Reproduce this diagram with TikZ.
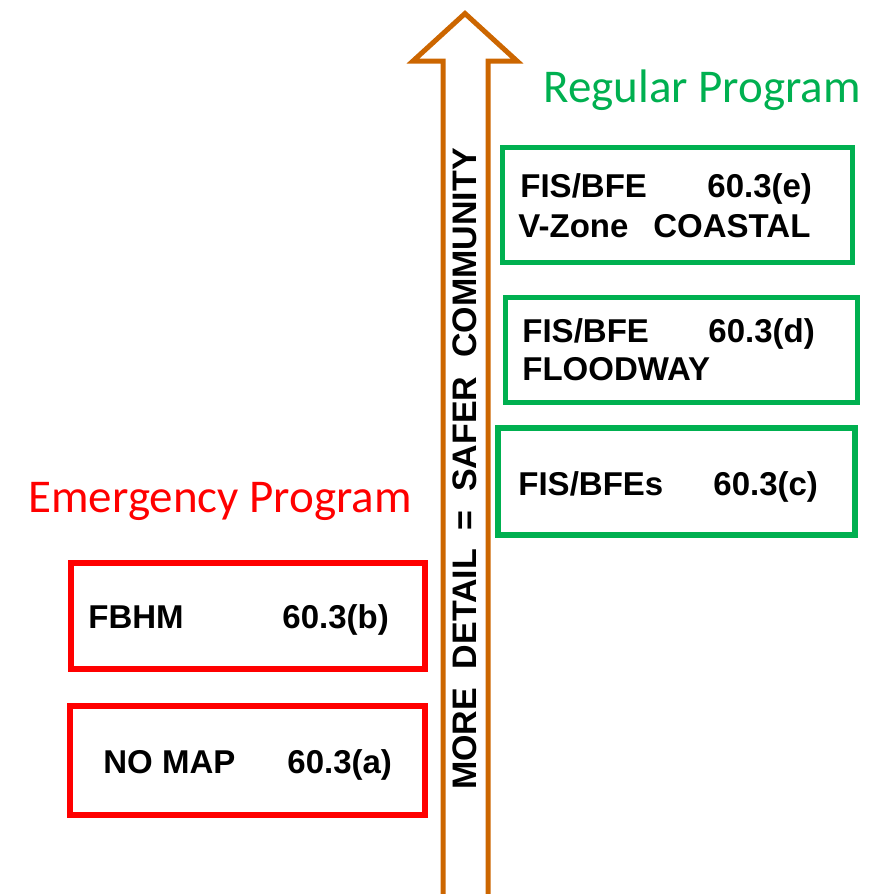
\documentclass[tikz,border=0pt]{standalone}
\usepackage{fontspec}
\usepackage{graphicx}
\usepackage{xcolor}
\usepackage{tikz}
\setmainfont{Liberation Sans}
\newfontfamily\calibri{Carlito}
\usetikzlibrary{positioning,calc}
\definecolor{arroworange}{HTML}{CC6600}
\definecolor{reggreen}{HTML}{00B050}
\definecolor{emred}{HTML}{FF0000}
\newcommand{\wordgap}{\hspace{0.55em}}

\begin{document}
\begin{tikzpicture}[x=0.5pt,y=-0.5pt,
    greenbox/.style={draw=reggreen, line width=2.5pt, inner sep=0pt},
    redbox/.style={draw=emred, line width=2.8pt, inner sep=0pt},
    boxtext/.style={anchor=base west, inner sep=0pt, font=\fontsize{16.5pt}{19pt}\selectfont\bfseries},
    progtitle/.style={anchor=base west, inner sep=0pt, font=\calibri\fontsize{23.5pt}{28pt}\selectfont}]

    \useasboundingbox (0,0) rectangle (892,894);

    % big arrow, open at the bottom edge
    \draw[arroworange, line width=2.5pt, line join=miter] (443,898) -- (443,61) -- (413,61) -- (465,13.5) -- (517,61) -- (488,61) -- (488,898) -- cycle;
    \node[rotate=90, inner sep=0pt, font=\fontsize{17pt}{20pt}\selectfont\bfseries] (slogan) at (464.5,469) {MORE\wordgap DETAIL\wordgap =\wordgap SAFER\wordgap COMMUNITY};

    % titles
    \node[progtitle, text=reggreen] (regular) at (543,102) {Regular Program};
    \node[progtitle, text=emred] (emergency) at (28,512) {Emergency Program};

    % regular program boxes
    \node[greenbox, minimum width=175pt, minimum height=57.5pt] (boxE) at (677.5,205) {};
    \node[boxtext] (fisE) at (520,197) {FIS/BFE};
    \node[boxtext] (secE) at (707,197) {60.3(e)};
    \node[boxtext] (vzone) at (518,237) {V-Zone};
    \node[boxtext] (coastal) at (653,237) {COASTAL};

    \node[greenbox, minimum width=176pt, minimum height=52.5pt] (boxD) at (681.5,350) {};
    \node[boxtext] (fisD) at (522,342) {FIS/BFE};
    \node[boxtext] (secD) at (708,342) {60.3(d)};
    \node[boxtext] (floodway) at (522,380) {FLOODWAY};

    \node[greenbox, line width=3pt, minimum width=178.5pt, minimum height=53.5pt] (boxC) at (676.5,481.5) {};
    \node[boxtext] (fisC) at (518,495) {FIS/BFEs};
    \node[boxtext] (secC) at (713,495) {60.3(c)};

    % emergency program boxes
    \node[redbox, minimum width=177.25pt, minimum height=53.25pt] (boxB) at (248,616) {};
    \node[boxtext] (fbhm) at (88,628) {FBHM};
    \node[boxtext] (secB) at (282,628) {60.3(b)};

    \node[redbox, line width=3pt, minimum width=177.5pt, minimum height=54.5pt] (boxA) at (247.5,760.5) {};
    \node[boxtext] (nomap) at (103,773) {NO MAP};
    \node[boxtext] (secA) at (287,773) {60.3(a)};
\end{tikzpicture}
\end{document}
